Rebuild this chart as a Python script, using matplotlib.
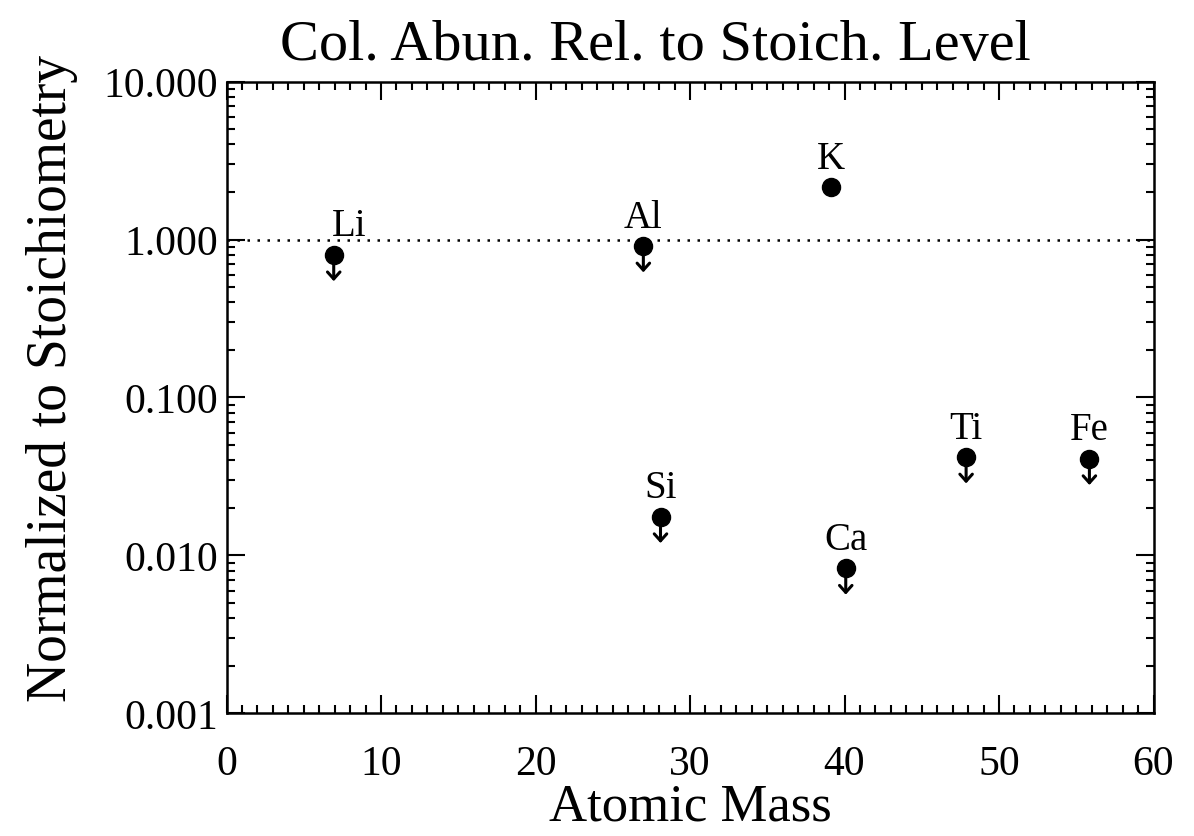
import numpy as np
import matplotlib
matplotlib.use("Agg")
import matplotlib.pyplot as plt
from matplotlib.ticker import FixedLocator, MultipleLocator, LogLocator, NullFormatter

# element abundances normalised to stoichiometry
elements = ["Li", "Al", "Si", "K", "Ca", "Ti", "Fe"]
atomic_mass = [6.94, 26.98, 28.09, 39.10, 40.08, 47.87, 55.85]
abundance = [0.80, 0.91, 0.0176, 2.15, 0.0083, 0.042, 0.041]
upper_limit = [True, True, True, False, True, True, True]

y_ticks = [0.001, 0.01, 0.1, 1.0, 10.0]
x_ticks = [0, 10, 20, 30, 40, 50, 60]

plt.rcParams["font.family"] = ["Liberation Serif", "DejaVu Serif"]

fig = plt.figure(figsize=(11.94, 8.37), dpi=100)
ax = fig.add_axes([0.1897, 0.1464, 0.7764, 0.755])

# stoichiometric level
ax.axhline(1.0, color="black", lw=1.8, ls=(0, (1, 3)), zorder=1)

ax.plot(atomic_mass, abundance, "o", color="black", ms=13, zorder=3)

for name, m, a, lim in zip(elements, atomic_mass, abundance, upper_limit):
    dx = 11 if name == "Li" else 0
    ax.annotate(name, xy=(m, a), xytext=(dx, 14), textcoords="offset points",
                ha="center", va="baseline", fontsize=28)
    if lim:
        ax.annotate("", xy=(m, a), xytext=(0, -19), textcoords="offset points",
                    arrowprops=dict(arrowstyle="<-,head_length=0.5,head_width=0.45",
                                    color="black", lw=2.2, shrinkA=0, shrinkB=0))

ax.set_yscale("log")
ax.set_xlim(0, 60)
ax.set_ylim(0.001, 10)
ax.xaxis.set_major_locator(FixedLocator(x_ticks))
ax.xaxis.set_minor_locator(MultipleLocator(1))
ax.yaxis.set_major_locator(FixedLocator(y_ticks))
ax.yaxis.set_minor_locator(LogLocator(base=10, subs=np.arange(2, 10)))
ax.yaxis.set_minor_formatter(NullFormatter())
ax.set_yticklabels(["%.3f" % v for v in y_ticks])

ax.tick_params(which="both", direction="in", top=True, right=True, width=1.5)
ax.tick_params(which="major", length=13)
ax.tick_params(which="minor", length=6)
ax.tick_params(axis="x", which="major", labelsize=30, pad=22)
ax.tick_params(axis="y", which="major", labelsize=30, pad=6)
for s in ax.spines.values():
    s.set_linewidth(1.8)

ax.set_xlabel("Atomic Mass", fontsize=38, labelpad=0)
ax.set_ylabel("Normalized to Stoichiometry", fontsize=40)
ax.yaxis.set_label_coords(-0.16, 0.532)
ax.set_title("Col. Abun. Rel. to Stoich. Level", fontsize=42, x=0.463, pad=16)

fig.savefig("out.png", dpi=100)
